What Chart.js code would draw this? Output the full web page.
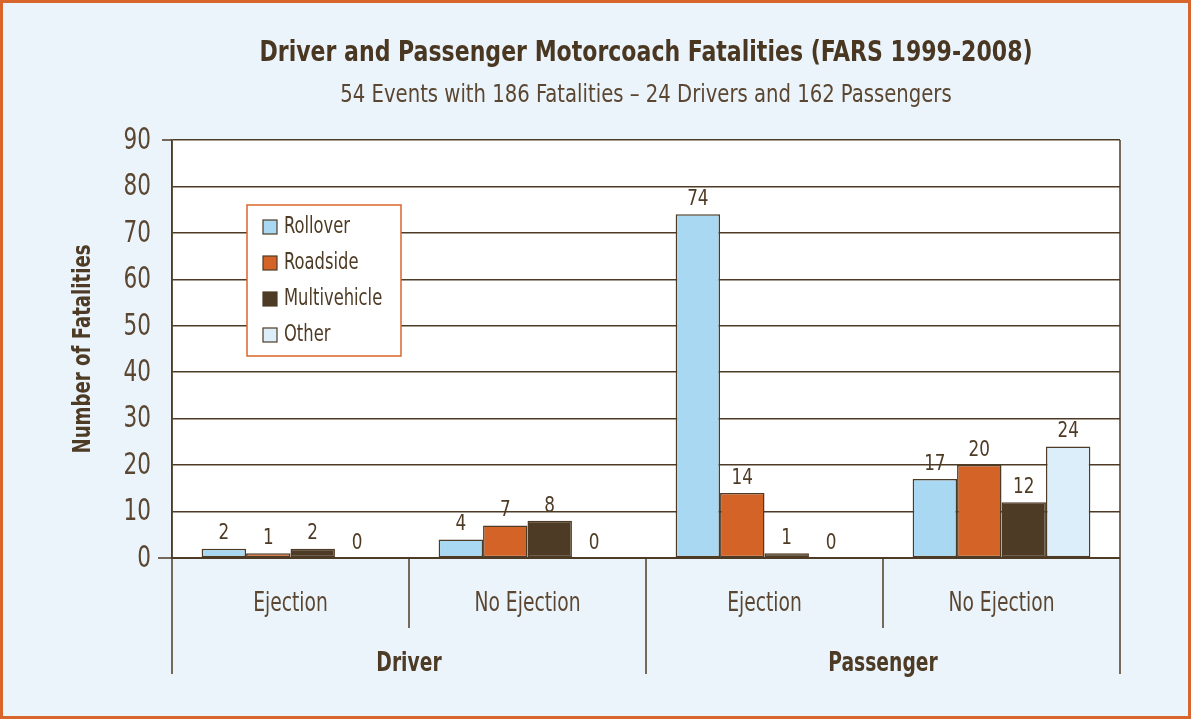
<!DOCTYPE html>
<html>
<head>
<meta charset="utf-8">
<script src="https://cdn.jsdelivr.net/npm/chart.js@4"></script>
<style>
  body { margin: 0; background: #ebf4fb; }
  #wrap { width: 1191px; height: 719px; }
</style>
</head>
<body>
<div id="wrap"><canvas id="chart" width="1191" height="719"></canvas></div>
<script>
const categories = ["Ejection", "No Ejection", "Ejection", "No Ejection"];
const groups = ["Driver", "Passenger"];
const rollover = [2, 4, 74, 17];
const roadside = [1, 7, 14, 20];
const multivehicle = [2, 8, 1, 12];
const other = [0, 0, 0, 24];
const yMax = 90;
const yStep = 10;

const brown = "#4e3b25";
const textBrown = "#5a4631";
const orange = "#d8652b";
const FONT = "'Liberation Sans Narrow', 'DejaVu Sans Condensed', sans-serif";

// draw text squeezed horizontally, the original uses a condensed face
function narrowText(ctx, text, x, y, sx) {
  ctx.save();
  ctx.translate(x, y);
  ctx.scale(sx, 1);
  ctx.fillText(text, 0, 0);
  ctx.restore();
}

const decor = {
  id: "decor",
  beforeDraw(chart) {
    const { ctx, chartArea: a } = chart;
    ctx.save();
    ctx.fillStyle = "#ebf4fb";
    ctx.fillRect(0, 0, chart.width, chart.height);
    ctx.fillStyle = "#ffffff";
    ctx.fillRect(a.left, a.top, a.right - a.left, a.bottom - a.top);
    ctx.restore();
  },
  afterDraw(chart) {
    const { ctx, chartArea: a } = chart;
    const xs = chart.scales.x;
    const ys = chart.scales.y;
    ctx.save();

    // category dividers
    const bounds = [a.left];
    for (let i = 1; i < categories.length; i++) {
      bounds.push((xs.getPixelForValue(i - 1) + xs.getPixelForValue(i)) / 2);
    }
    bounds.push(a.right);
    ctx.strokeStyle = brown;
    ctx.lineWidth = 1.5;
    bounds.forEach((x, i) => {
      const major = i % 2 === 0;
      ctx.beginPath();
      ctx.moveTo(x, i === 0 || i === bounds.length - 1 ? a.top : a.bottom);
      ctx.lineTo(x, a.bottom + (major ? 116 : 70));
      ctx.stroke();
    });
    // left tick marks at top and zero
    ctx.beginPath();
    ctx.moveTo(a.left - 10, a.top); ctx.lineTo(a.left, a.top);
    ctx.moveTo(a.left - 14, a.bottom); ctx.lineTo(a.left, a.bottom);
    ctx.stroke();
    ctx.lineWidth = 2;
    ctx.beginPath();
    ctx.moveTo(a.left, a.bottom); ctx.lineTo(a.right, a.bottom);
    ctx.stroke();

    // axis tick labels, condensed
    ctx.fillStyle = textBrown;
    ctx.textBaseline = "middle";
    ctx.textAlign = "right";
    ctx.font = "30px " + FONT;
    ys.ticks.forEach((t) => {
      narrowText(ctx, String(t.value), a.left - 21, ys.getPixelForValue(t.value) + 1, 0.8);
    });
    ctx.textAlign = "center";
    ctx.font = "26px " + FONT;
    categories.forEach((c, i) => {
      narrowText(ctx, c, xs.getPixelForValue(i), a.bottom + 46, 0.8);
    });

    // group labels
    ctx.fillStyle = brown;
    ctx.font = "bold 26px " + FONT;
    groups.forEach((g, i) => {
      narrowText(ctx, g, (bounds[i * 2] + bounds[i * 2 + 2]) / 2, a.bottom + 106, 0.8);
    });

    // data labels
    ctx.font = "22px " + FONT;
    ctx.textBaseline = "bottom";
    chart.data.datasets.forEach((ds, di) => {
      chart.getDatasetMeta(di).data.forEach((el, i) => {
        narrowText(ctx, String(ds.data[i]), el.x, el.y - 4, 0.85);
      });
    });

    // legend
    const lx = 247, ly = 205, lw = 154, lh = 151;
    ctx.fillStyle = "#ffffff";
    ctx.fillRect(lx, ly, lw, lh);
    ctx.strokeStyle = orange;
    ctx.lineWidth = 1.5;
    ctx.strokeRect(lx, ly, lw, lh);
    ctx.textAlign = "left";
    ctx.textBaseline = "middle";
    ctx.font = "23px " + FONT;
    chart.data.datasets.forEach((ds, i) => {
      const cy = ly + 22 + i * 36;
      ctx.fillStyle = ds.backgroundColor;
      ctx.fillRect(lx + 16, cy - 7, 14, 14);
      ctx.strokeStyle = brown;
      ctx.lineWidth = 1.2;
      ctx.strokeRect(lx + 16, cy - 7, 14, 14);
      ctx.fillStyle = brown;
      narrowText(ctx, ds.label, lx + 37, cy, 0.79);
    });

    // titles
    const cx = (a.left + a.right) / 2;
    ctx.textAlign = "center";
    ctx.fillStyle = "#4a3722";
    ctx.font = "bold 29px " + FONT;
    narrowText(ctx, "Driver and Passenger Motorcoach Fatalities (FARS 1999-2008)", cx, 53, 0.845);
    ctx.fillStyle = textBrown;
    ctx.font = "24px " + FONT;
    narrowText(ctx, "54 Events with 186 Fatalities \u2013 24 Drivers and 162 Passengers", cx, 96, 0.91);

    // y axis title
    ctx.save();
    ctx.translate(84, (a.top + a.bottom) / 2);
    ctx.rotate(-Math.PI / 2);
    ctx.font = "bold 24px " + FONT;
    ctx.fillStyle = brown;
    narrowText(ctx, "Number of Fatalities", 0, 0, 0.84);
    ctx.restore();

    // outer frame
    ctx.strokeStyle = orange;
    ctx.lineWidth = 3;
    ctx.strokeRect(1.5, 1.5, chart.width - 3, chart.height - 3);
    ctx.restore();
  }
};

const barStyle = {
  borderColor: brown,
  borderWidth: (c) => (c.raw === 0 ? 0 : 1.5),
  borderSkipped: false,
  barPercentage: 1,
  categoryPercentage: 0.75
};

new Chart(document.getElementById("chart"), {
  type: "bar",
  data: {
    labels: categories,
    datasets: [
      { label: "Rollover", data: rollover, backgroundColor: "#a9d8f2", ...barStyle },
      { label: "Roadside", data: roadside, backgroundColor: "#d46327", ...barStyle },
      { label: "Multivehicle", data: multivehicle, backgroundColor: "#4e3b25", ...barStyle },
      { label: "Other", data: other, backgroundColor: "#ddeefb", ...barStyle }
    ]
  },
  options: {
    responsive: false,
    animation: false,
    layout: { padding: { top: 140, right: 71, left: 0, bottom: 0 } },
    plugins: { legend: { display: false }, tooltip: { enabled: false } },
    scales: {
      x: {
        grid: { display: false },
        border: { display: false },
        ticks: { display: false },
        afterFit: (s) => { s.height = 161; }
      },
      y: {
        min: 0,
        max: yMax,
        ticks: { stepSize: yStep, display: false },
        grid: { color: brown, lineWidth: 1.5, drawTicks: false },
        border: { color: brown, width: 1.5 },
        afterFit: (s) => { s.width = 172; }
      }
    }
  },
  plugins: [decor]
});
</script>
</body>
</html>
